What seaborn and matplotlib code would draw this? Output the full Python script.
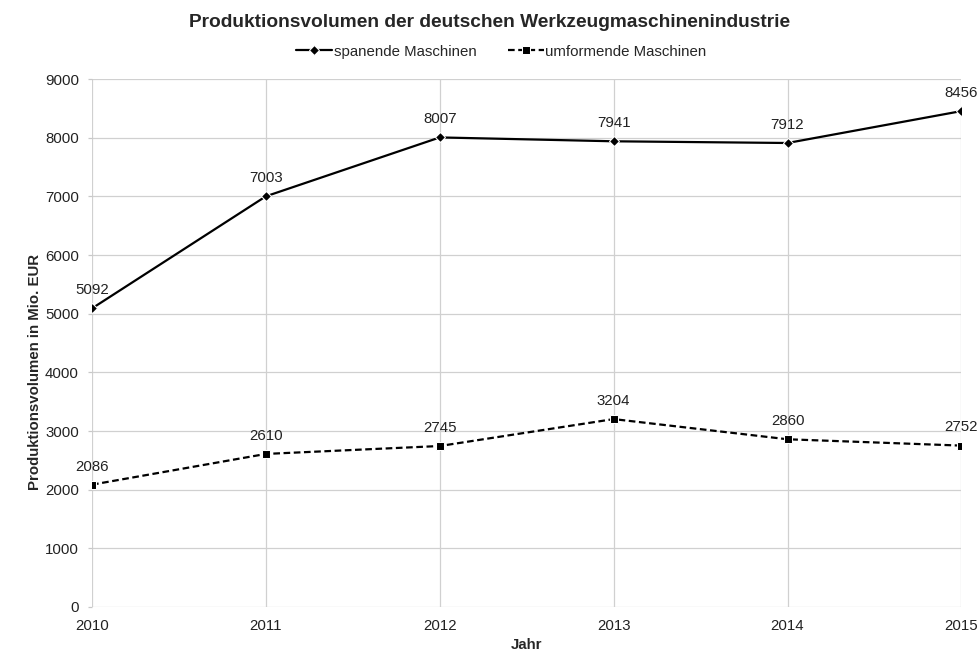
import matplotlib
matplotlib.use("Agg")
import matplotlib.pyplot as plt
import seaborn as sns
import pandas as pd

years = [2010, 2011, 2012, 2013, 2014, 2015]
spanende = [5092, 7003, 8007, 7941, 7912, 8456]
umformende = [2086, 2610, 2745, 3204, 2860, 2752]
series_names = ["spanende Maschinen", "umformende Maschinen"]

df = pd.DataFrame({
    "Jahr": years * 2,
    "Wert": spanende + umformende,
    "Serie": [series_names[0]] * len(years) + [series_names[1]] * len(years),
})

sns.set_theme(style="white")
plt.rcParams["font.family"] = ["Liberation Sans", "DejaVu Sans"]

fig = plt.figure(figsize=(9.79, 6.66), dpi=100)
ax = fig.add_axes([0.094, 0.0886, 0.888, 0.7925])

sns.lineplot(
    data=df, x="Jahr", y="Wert", hue="Serie", style="Serie",
    palette=["black", "black"],
    dashes={series_names[0]: "", series_names[1]: (3, 1.6)},
    markers={series_names[0]: "D", series_names[1]: "s"},
    markersize=5.3, linewidth=1.6, ax=ax, legend=True,
)

# value labels centred above each point
for vals in [spanende, umformende]:
    for x, v in zip(years, vals):
        ax.annotate(str(v), (x, v), xytext=(0, 8), textcoords="offset points",
                    ha="center", va="bottom", fontsize=10.8, color="#222222",
                    annotation_clip=False)

ax.set_xlim(2010, 2015)
ax.set_ylim(0, 9000)
ax.set_xticks(years)
ax.set_yticks(range(0, 9001, 1000))
ax.grid(True, color="#d0d0d0", linewidth=0.9)
for s in ax.spines.values():
    s.set_visible(False)
ax.tick_params(axis="both", labelsize=10.8, labelcolor="#222222")
ax.tick_params(axis="x", length=0, pad=9)
ax.tick_params(axis="y", length=3, width=0.9, color="#c8c8c8", pad=6.5, left=True)

ax.set_xlabel("Jahr", fontsize=10.8, fontweight="bold", labelpad=3)
ax.set_ylabel("Produktionsvolumen in Mio. EUR", fontsize=10.8, fontweight="bold")
ax.yaxis.set_label_coords(-0.058, 0.445)

handles, labels = ax.get_legend_handles_labels()
ax.legend(handles, labels, loc="center", bbox_to_anchor=(0.471, 1.052),
          ncol=2, frameon=False, fontsize=10.8, handlelength=2.4,
          columnspacing=2.1, handletextpad=0.1)

fig.suptitle("Produktionsvolumen der deutschen Werkzeugmaschinenindustrie",
             fontsize=13.8, fontweight="bold", y=0.966, va="center")

fig.savefig("out.png", dpi=100)
